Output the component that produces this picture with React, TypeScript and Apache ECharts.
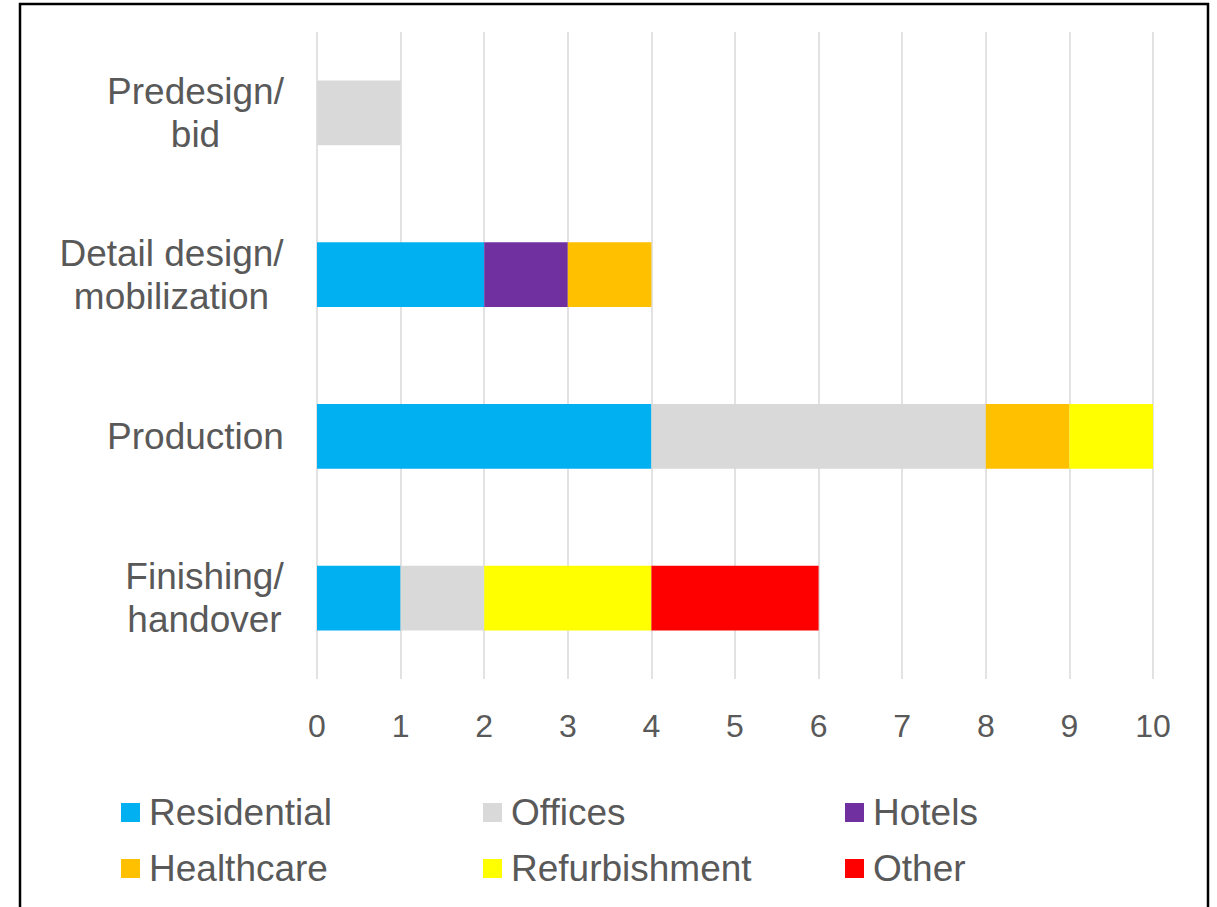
import React, { useEffect, useRef } from "react";
import * as echarts from "echarts";

// Project stages, listed top to bottom
const stages = ["Predesign/\nbid", "Detail design/\nmobilization", "Production", "Finishing/\nhandover"];

// Number of projects per sector at each stage
const residential = [0, 2, 4, 1];
const offices = [1, 0, 4, 1];
const hotels = [0, 1, 0, 0];
const healthcare = [0, 1, 1, 0];
const refurbishment = [0, 0, 1, 2];
const other = [0, 0, 0, 2];

const sectorNames = ["Residential", "Offices", "Hotels", "Healthcare", "Refurbishment", "Other"];
const sectorColors = ["#00B0F0", "#D9D9D9", "#7030A0", "#FFC000", "#FFFF00", "#FF0000"];
const sectorValues = [residential, offices, hotels, healthcare, refurbishment, other];

const xTicks = [0, 10, 1];

const FONT = "'Liberation Sans', Arial, sans-serif";
const TEXT = "#595959";
const LABEL_SIZE = 37;

// Widest line of a multi-line label, used so that each line is centred in its block
function blockWidth(label: string): number {
  const ctx = document.createElement("canvas").getContext("2d");
  if (!ctx) return 0;
  ctx.font = `${LABEL_SIZE}px ${FONT}`;
  return Math.ceil(Math.max(...label.split("\n").map((l) => ctx.measureText(l).width)));
}

export default function App() {
  const ref = useRef<HTMLDivElement>(null);

  useEffect(() => {
    if (!ref.current) return;
    const chart = echarts.init(ref.current, undefined, { renderer: "svg" });

    const rich: Record<string, any> = {};
    stages.forEach((s, i) => {
      rich[`l${i}`] = {
        width: blockWidth(s),
        align: "center",
        fontFamily: FONT,
        fontSize: LABEL_SIZE,
        color: TEXT,
        lineHeight: 43,
      };
    });

    const legendPos = [
      [121, 794],
      [483, 794],
      [845, 794],
      [121, 850],
      [483, 850],
      [845, 850],
    ];

    const legends = sectorNames.map((name, i) => ({
      data: [name],
      left: legendPos[i][0],
      top: legendPos[i][1],
      orient: "horizontal",
      icon: "rect",
      itemWidth: 19,
      itemHeight: 19,
      padding: 0,
      selectedMode: false,
      textStyle: {
        fontFamily: FONT,
        fontSize: LABEL_SIZE,
        color: TEXT,
        padding: [0, 0, 0, 4],
      },
    }));

    chart.setOption({
      animation: false,
      backgroundColor: "#ffffff",
      grid: { left: 317, right: 64, top: 32, height: 647, containLabel: false },
      xAxis: {
        type: "value",
        min: xTicks[0],
        max: xTicks[1],
        interval: xTicks[2],
        axisLine: { show: false },
        axisTick: { show: false },
        axisLabel: { fontFamily: FONT, fontSize: 32, color: TEXT, margin: 31 },
        splitLine: { show: true, lineStyle: { color: "#D9D9D9", width: 1.5 } },
      },
      yAxis: {
        type: "category",
        data: stages,
        inverse: true,
        axisLine: { show: false },
        axisTick: { show: false },
        axisLabel: {
          fontFamily: FONT,
          fontSize: LABEL_SIZE,
          color: TEXT,
          margin: 33,
          align: "right",
          lineHeight: 43,
          formatter: (value: string, index: number) =>
            value
              .split("\n")
              .map((line) => `{l${index}|${line}}`)
              .join("\n"),
          rich,
        },
      },
      legend: legends,
      series: sectorNames.map((name, i) => ({
        name,
        type: "bar",
        stack: "total",
        data: sectorValues[i],
        barWidth: "40%",
        itemStyle: { color: sectorColors[i] },
      })),
      graphic: [
        {
          type: "rect",
          shape: { x: 20, y: 4, width: 1188, height: 930 },
          style: { fill: "none", stroke: "#000000", lineWidth: 2.5 },
          silent: true,
        },
      ],
    });

    return () => chart.dispose();
  }, []);

  return (
    <div
      ref={ref}
      style={{ position: "fixed", left: 0, top: 0, width: 1217, height: 907 }}
    />
  );
}
